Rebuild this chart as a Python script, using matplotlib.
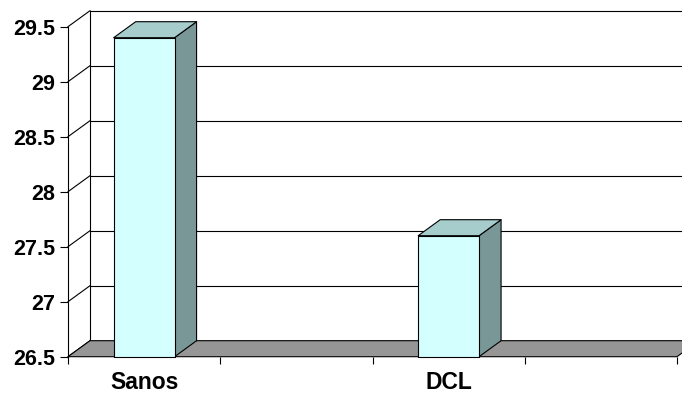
import matplotlib
matplotlib.use("Agg")
import matplotlib.pyplot as plt
from matplotlib.patches import Polygon

# Data
categories = ["Sanos", "", "DCL", ""]
values = [29.4, None, 27.6, None]
y_ticks = [26.5, 27, 27.5, 28, 28.5, 29, 29.5]
y_tick_labels = ["26.5", "27", "27.5", "28", "28.5", "29", "29.5"]

plt.rcParams["font.family"] = ["Liberation Sans", "DejaVu Sans"]

W, H = 682, 394
fig = plt.figure(figsize=(W / 100, H / 100), dpi=100)
fig.patch.set_facecolor("white")

# front plane of the pseudo-3D box, in pixels
left_px, right_px, bottom_px, top_px = 68, 677, 356.7, 26.7
ax = fig.add_axes([left_px / W, (H - bottom_px) / H,
                   (right_px - left_px) / W, (bottom_px - top_px) / H])
ymin, ymax = y_ticks[0], y_ticks[-1]
n = len(categories)
ax.set_xlim(0, n)
ax.set_ylim(ymin, ymax)
ax.set_facecolor("none")

# depth offset of the back wall, expressed in data units
px_per_x = (right_px - left_px) / n
px_per_y = (bottom_px - top_px) / (ymax - ymin)
DX = 22 / px_per_x
DY = 16 / px_per_y

lw = 0.8
# back wall gridlines and left side-wall diagonals
for v in y_ticks:
    ax.plot([DX, n + DX], [v + DY, v + DY], color="black", lw=lw,
            clip_on=False, zorder=1, solid_capstyle="butt")
    ax.plot([0, DX], [v, v + DY], color="black", lw=lw,
            clip_on=False, zorder=1)
ax.plot([DX, DX], [ymin + DY, ymax + DY], color="black", lw=lw,
        clip_on=False, zorder=1)

# floor
floor = Polygon([(0, ymin), (n, ymin), (n + DX, ymin + DY), (DX, ymin + DY)],
                closed=True, facecolor="#969696", edgecolor="black", lw=lw,
                clip_on=False, zorder=2)
ax.add_patch(floor)

# bars
bar_w = 0.4
front_c, top_c, side_c = "#D4FFFF", "#A6CCCC", "#7A9797"
for i, v in enumerate(values):
    if v is None:
        continue
    c = i + 0.5
    x0, x1 = c - bar_w / 2, c + bar_w / 2
    side = Polygon([(x1, ymin), (x1 + DX, ymin + DY), (x1 + DX, v + DY), (x1, v)],
                   closed=True, facecolor=side_c, edgecolor="black", lw=lw,
                   clip_on=False, zorder=3, joinstyle="round")
    top = Polygon([(x0, v), (x1, v), (x1 + DX, v + DY), (x0 + DX, v + DY)],
                  closed=True, facecolor=top_c, edgecolor="black", lw=lw,
                  clip_on=False, zorder=3, joinstyle="round")
    front = Polygon([(x0, ymin), (x1, ymin), (x1, v), (x0, v)],
                    closed=True, facecolor=front_c, edgecolor="black", lw=lw,
                    clip_on=False, zorder=4, joinstyle="round")
    for p in (side, top, front):
        ax.add_patch(p)

# axes and ticks
for s in ("top", "right", "bottom"):
    ax.spines[s].set_visible(False)
ax.spines["left"].set_color("black")
ax.spines["left"].set_linewidth(lw)
ax.spines["left"].set_zorder(5)

ax.set_yticks(y_ticks)
ax.set_yticklabels(y_tick_labels, fontsize=15.5, fontweight="bold")
ax.tick_params(axis="y", direction="out", length=6, width=lw, pad=3,
               colors="black")

ax.set_xticks(range(n + 1))
ax.set_xticklabels([])
ax.tick_params(axis="x", which="major", direction="out", length=5, width=lw,
               colors="black")
ax.set_xticks([i + 0.5 for i in range(n)], minor=True)
ax.set_xticklabels(categories, minor=True, fontsize=16.5, fontweight="bold")
ax.tick_params(axis="x", which="minor", length=0, pad=10.5)

fig.savefig("out.png", dpi=100, facecolor="white")
